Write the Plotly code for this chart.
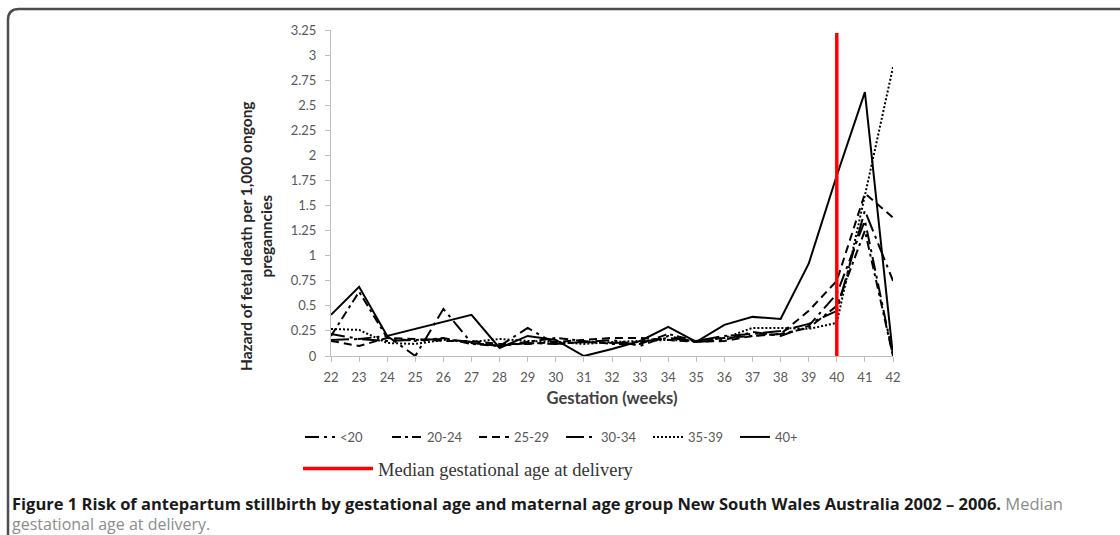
import plotly.graph_objects as go

weeks = list(range(22, 43))
lt20 = [0.22, 0.17, 0.20, 0.00, 0.47, 0.13, 0.10, 0.28, 0.12, 0.14, 0.16, 0.10, 0.20, 0.14, 0.16, 0.24, 0.20, 0.30, 0.62, 1.35, 0.00]
a20_24 = [0.20, 0.64, 0.18, 0.15, 0.18, 0.12, 0.10, 0.14, 0.18, 0.15, 0.12, 0.12, 0.22, 0.15, 0.18, 0.20, 0.22, 0.28, 0.50, 1.25, 0.00]
a25_29 = [0.15, 0.10, 0.18, 0.17, 0.15, 0.15, 0.12, 0.12, 0.14, 0.16, 0.18, 0.18, 0.16, 0.14, 0.15, 0.20, 0.22, 0.45, 0.75, 1.62, 1.38]
a30_34 = [0.16, 0.17, 0.15, 0.16, 0.17, 0.14, 0.10, 0.13, 0.12, 0.14, 0.13, 0.14, 0.18, 0.15, 0.20, 0.22, 0.25, 0.32, 0.45, 1.45, 0.75]
a35_39 = [0.27, 0.26, 0.13, 0.12, 0.16, 0.14, 0.17, 0.15, 0.14, 0.12, 0.14, 0.15, 0.16, 0.15, 0.18, 0.28, 0.28, 0.27, 0.33, 1.60, 2.88]
a40p = [0.41, 0.69, 0.20, 0.27, 0.34, 0.41, 0.08, 0.20, 0.16, 0.00, 0.07, 0.15, 0.29, 0.14, 0.31, 0.39, 0.37, 0.92, 1.80, 2.63, 0.00]

series_names = ["<20", "20-24", "25-29", "30-34", "35-39", "40+"]
series_vals = [lt20, a20_24, a25_29, a30_34, a35_39, a40p]
series_dash = ["14px,5px,3px,5px", "9px,4px,3px,4px", "8px,5px", "18px,5px,3px,5px", "2px,2px", "solid"]

median_week = 40
median_top = 3.22

ytick_vals = [i * 0.25 for i in range(14)]
ytick_text = ["0", "0.25", "0.5", "0.75", "1", "1.25", "1.5", "1.75", "2", "2.25", "2.5", "2.75", "3", "3.25"]

L, R, T, B = 331, 227, 30, 179
W, H = 1120, 535
PW, PH = W - L - R, H - T - B


def px(x):
    return (x - L) / PW


def py(y):
    return (H - B - y) / PH


fig = go.Figure()
for name, vals, dash in zip(series_names, series_vals, series_dash):
    fig.add_trace(go.Scatter(x=weeks, y=vals, mode="lines", name=name,
                             line=dict(color="black", width=2, dash=dash),
                             legend="legend"))

fig.add_trace(go.Scatter(x=[median_week, median_week], y=[0, median_top], mode="lines",
                         name="Median gestational age at delivery",
                         line=dict(color="#ff0000", width=3.5), legend="legend2"))

grey = "#595959"
fig.update_layout(
    width=W, height=H,
    margin=dict(l=L, r=R, t=T, b=B),
    paper_bgcolor="white", plot_bgcolor="white",
    font=dict(family="Lato", color=grey, size=12),
    xaxis=dict(range=[22, 42], tickvals=weeks, ticks="outside", ticklen=5, tickcolor="#bfbfbf",
               showline=True, linecolor="#bfbfbf", linewidth=1, showgrid=False, zeroline=False,
               tickfont=dict(family="Lato", size=13, color=grey), ticklabelstandoff=4,
               title=dict(text="<b>Gestation (weeks)</b>", font=dict(family="Lato", size=16.5, color="#404040"),
                          standoff=8)),
    yaxis=dict(range=[0, 3.25], tickvals=ytick_vals, ticktext=ytick_text, ticks="outside", ticklen=5,
               tickcolor="#bfbfbf", showline=True, linecolor="#bfbfbf", linewidth=1, showgrid=False,
               zeroline=False, tickfont=dict(family="Lato", size=13, color=grey), ticklabelstandoff=6),
    legend=dict(orientation="h", x=px(300), y=py(437), xanchor="left", yanchor="middle",
                font=dict(family="Lato", size=13, color=grey), traceorder="normal",
                bgcolor="rgba(0,0,0,0)", entrywidth=42, entrywidthmode="pixels"),
    legend2=dict(orientation="h", x=px(298), y=py(469), xanchor="left", yanchor="middle",
                 font=dict(family="Liberation Serif", size=18.5, color="#333333"),
                 bgcolor="rgba(0,0,0,0)", itemwidth=70),
    showlegend=True,
)

fig.add_annotation(text="<b>Hazard of fetal death per 1,000 ongong</b><br><b>preganncies</b>",
                   xref="paper", yref="paper", x=px(256), y=py(236), xanchor="center", yanchor="middle",
                   textangle=-90, showarrow=False, align="center",
                   font=dict(family="Lato", size=15.5, color="#262626"))

fig.add_annotation(text="<b>Figure 1 Risk of antepartum stillbirth by gestational age and maternal age group New South Wales Australia 2002 – 2006.</b>"
                        "<span style='color:#8c8c8c'> Median</span>",
                   xref="paper", yref="paper", x=px(10), y=py(503), xanchor="left", yanchor="middle",
                   showarrow=False, font=dict(family="Open Sans", size=16.5, color="#1a1a1a"))
fig.add_annotation(text="gestational age at delivery.",
                   xref="paper", yref="paper", x=px(10), y=py(524), xanchor="left", yanchor="middle",
                   showarrow=False, font=dict(family="Open Sans", size=16, color="#8c8c8c"))

fig.add_shape(type="path", xref="paper", yref="paper",
              path=f"M {px(8)},{py(545)} L {px(8)},{py(20)} Q {px(8)},{py(9)} {px(19)},{py(9)} L {px(1125)},{py(9)}",
              line=dict(color="#4d4d4d", width=2.5), layer="above")

fig.write_html("out.html")
